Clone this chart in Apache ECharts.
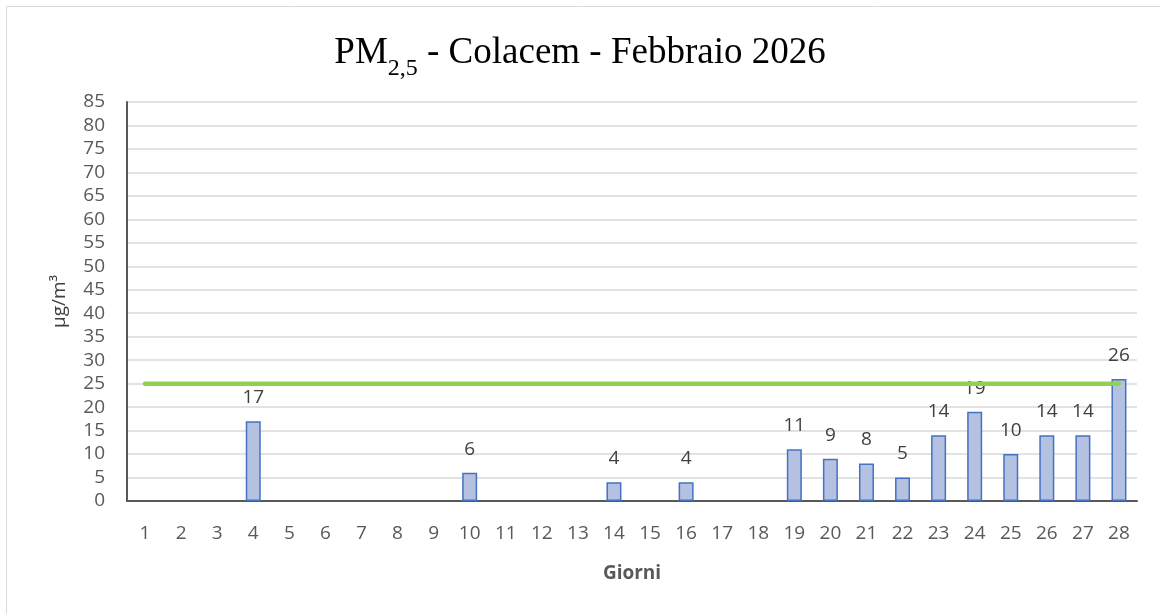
<!DOCTYPE html>
<html><head><meta charset="utf-8">
<script src="https://cdn.jsdelivr.net/npm/echarts@6/dist/echarts.min.js"></script>
<style>html,body{margin:0;padding:0;background:#fff}#c{width:1160px;height:614px}</style>
</head><body><div id="c"></div>
<script>
const days = ['1','2','3','4','5','6','7','8','9','10','11','12','13','14','15','16','17','18','19','20','21','22','23','24','25','26','27','28'];
const pm25 = [null,null,null,17,null,null,null,null,null,6,null,null,null,4,null,4,null,null,11,9,8,5,14,19,10,14,14,26];
const limit = [25,25,25,25,25,25,25,25,25,25,25,25,25,25,25,25,25,25,25,25,25,25,25,25,25,25,25,25];
const yTicks = {min:0, max:85, interval:5};

const chart = echarts.init(document.getElementById('c'));
chart.setOption({
  animation:false,
  graphic:[{type:'rect',shape:{x:6.5,y:6.5,width:1200,height:700},style:{fill:'none',stroke:'#d9d9d9',lineWidth:1}}],
  title:{
    text:'{a|PM}{s|2,5}{a| - Colacem - Febbraio 2026}',
    left:'center', top:26,
    textStyle:{fontWeight:'normal',rich:{
      a:{fontFamily:'Liberation Serif',fontSize:37,fontWeight:'normal',color:'#000',verticalAlign:'bottom',lineHeight:50,padding:[0,0,9,0]},
      s:{fontFamily:'Liberation Serif',fontSize:24,fontWeight:'normal',color:'#000',verticalAlign:'bottom',lineHeight:50}
    }}
  },
  grid:{left:127,right:23,top:102,bottom:113,containLabel:false},
  xAxis:{
    type:'category', data:days, boundaryGap:true,
    name:'Giorni', nameLocation:'middle', nameGap:63,
    nameTextStyle:{fontFamily:'Open Sans',fontSize:19,fontWeight:'bold',color:'#595959'},
    axisLine:{lineStyle:{color:'#595959',width:2}},
    axisTick:{show:false},
    axisLabel:{fontFamily:'Open Sans',fontSize:19,color:'#595959',margin:23,interval:0}
  },
  yAxis:{
    type:'value', min:yTicks.min, max:yTicks.max, interval:yTicks.interval,
    name:'µg/m³', nameLocation:'middle', nameGap:58, nameRotate:90,
    nameTextStyle:{fontFamily:'Open Sans',fontSize:19,color:'#404040'},
    axisLine:{show:true,lineStyle:{color:'#595959',width:2}},
    axisTick:{show:false},
    splitLine:{lineStyle:{color:'#d9d9d9',width:1.5}},
    axisLabel:{fontFamily:'Open Sans',fontSize:19,color:'#595959',margin:22}
  },
  series:[
    {type:'bar',data:pm25,barWidth:15,
      itemStyle:{color:'#b4c1e1',borderColor:'#4472c4',borderWidth:1.5},
      label:{show:true,position:'top',distance:14,fontFamily:'Open Sans',fontSize:19,color:'#404040'},
      z:2},
    {type:'line',data:limit,symbol:'none',lineStyle:{color:'#92d050',width:4.5,cap:'round'},z:3,silent:true}
  ]
});
</script></body></html>
